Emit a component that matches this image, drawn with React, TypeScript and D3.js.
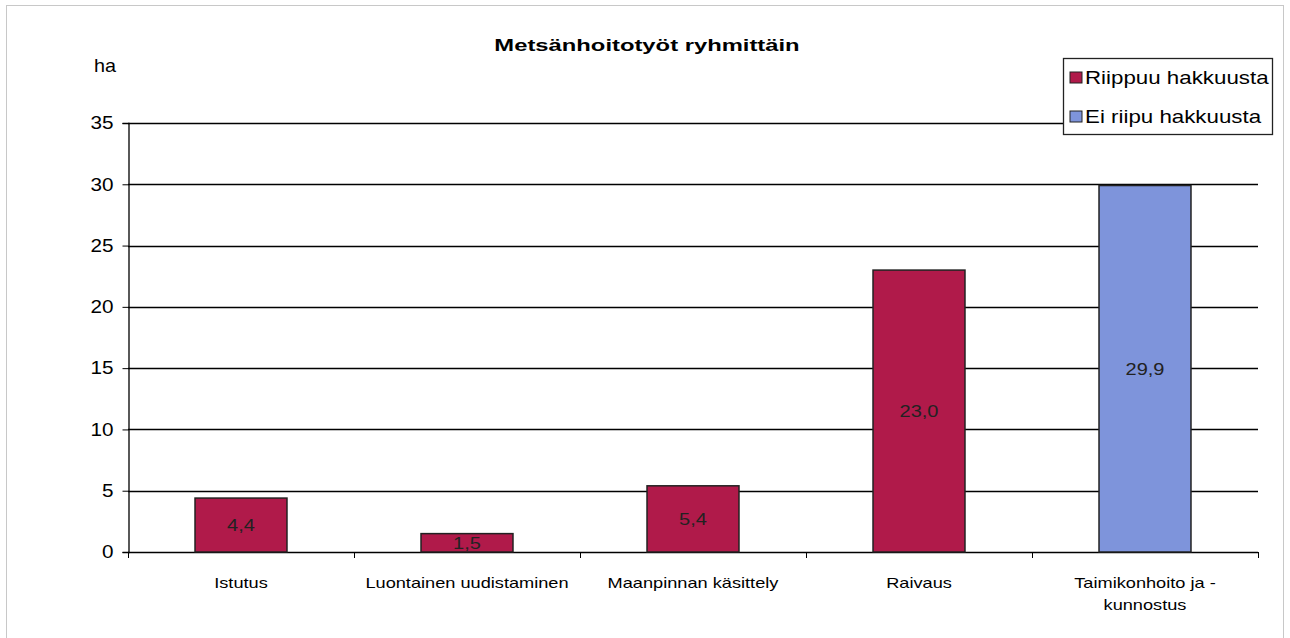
import { useRef, useEffect } from "react";
import * as d3 from "d3";

const categories = [
  ["Istutus"],
  ["Luontainen uudistaminen"],
  ["Maanpinnan käsittely"],
  ["Raivaus"],
  ["Taimikonhoito ja -", "kunnostus"],
];
const values = [4.4, 1.5, 5.4, 23.0, 29.9];
const series = [0, 0, 0, 0, 1]; // 0 = Riippuu hakkuusta, 1 = Ei riipu hakkuusta
const seriesNames = ["Riippuu hakkuusta", "Ei riipu hakkuusta"];
const seriesColors = ["#B01A4A", "#7E94DB"];
const yTicks = [0, 5, 10, 15, 20, 25, 30, 35];

const W = 1290;
const H = 638;
const left = 128;
const right = 1258;
const top = 123;
const bottom = 552;

// the original picture is stretched sideways, so text gets a horizontal scale
function stretched(
  g: d3.Selection<any, any, any, any>,
  x: number,
  y: number,
  sx: number,
  size: number,
  txt: string,
  anchor = "middle",
) {
  return g.append("text")
    .attr("transform", `translate(${x},${y}) scale(${sx},1)`)
    .attr("text-anchor", anchor)
    .attr("font-size", size)
    .text(txt);
}

const App = () => {
  const ref = useRef<SVGSVGElement>(null);

  useEffect(() => {
    if (!ref.current) return;
    const svg = d3.select(ref.current);
    svg.selectAll("*").remove();

    const x = d3.scaleBand<number>()
      .domain(d3.range(values.length))
      .range([left, right])
      .paddingInner(0.593)
      .paddingOuter(0.2965);
    const band = d3.scaleBand<number>().domain(d3.range(values.length)).range([left, right]);
    const y = d3.scaleLinear().domain([0, 35]).range([bottom, top]);

    // outer frame
    svg.append("rect")
      .attr("x", 6.5).attr("y", 5.5)
      .attr("width", W - 13).attr("height", H - 4)
      .attr("fill", "none").attr("stroke", "#c8c8c8");

    // title
    stretched(svg, 647, 51, 1.4, 17, "Metsänhoitotyöt ryhmittäin").attr("font-weight", "bold");
    stretched(svg, 94, 72, 1.1, 18, "ha", "start");

    // gridlines
    svg.append("g")
      .selectAll("line")
      .data(yTicks)
      .join("line")
      .attr("x1", left).attr("x2", right)
      .attr("y1", d => Math.round(y(d)) + 0.5)
      .attr("y2", d => Math.round(y(d)) + 0.5)
      .attr("stroke", "#000")
      .attr("stroke-width", 1.3);

    // y axis
    const yAxis = svg.append("g")
      .attr("transform", `translate(${left + 0.5},0)`)
      .call(d3.axisLeft(y).tickValues(yTicks).tickSize(6).tickPadding(10).tickFormat(d3.format("d")));
    yAxis.select(".domain").attr("stroke", "#000").attr("stroke-width", 1.3);
    yAxis.selectAll("text")
      .attr("font-size", 18)
      .attr("font-family", "Liberation Sans, Arial, sans-serif")
      .attr("fill", "#000")
      .attr("x", -15 / 1.15)
      .attr("transform", "scale(1.15,1)");

    // x axis ticks at band boundaries
    svg.append("g")
      .selectAll("line")
      .data(d3.range(values.length + 1))
      .join("line")
      .attr("x1", d => left + d * band.step() + 0.5)
      .attr("x2", d => left + d * band.step() + 0.5)
      .attr("y1", bottom)
      .attr("y2", bottom + 6)
      .attr("stroke", "#000");

    // bars
    svg.append("g")
      .selectAll("rect")
      .data(values)
      .join("rect")
      .attr("x", (_, i) => x(i)!)
      .attr("y", d => y(d))
      .attr("width", x.bandwidth())
      .attr("height", d => y(0) - y(d))
      .attr("fill", (_, i) => seriesColors[series[i]])
      .attr("stroke", "#222")
      .attr("stroke-width", 1.5);

    // value labels
    const vl = svg.append("g").attr("fill", "#222");
    values.forEach((v, i) => {
      stretched(vl, x(i)! + x.bandwidth() / 2, (y(v) + y(0)) / 2 + 6, 1.25, 16, v.toFixed(1).replace(".", ","));
    });

    // category labels
    const cl = svg.append("g");
    categories.forEach((lines, i) => {
      lines.forEach((l, j) => {
        stretched(cl, band(i)! + band.bandwidth() / 2, 588 + j * 22, 1.3, 14, l);
      });
    });

    // legend
    const lg = svg.append("g").attr("transform", "translate(1063,58)");
    lg.append("rect")
      .attr("x", 0.5).attr("y", 0.5)
      .attr("width", 209).attr("height", 76)
      .attr("fill", "#fff").attr("stroke", "#222").attr("stroke-width", 1.3);
    seriesNames.forEach((name, i) => {
      const it = lg.append("g").attr("transform", `translate(7,${20 + i * 39})`);
      it.append("rect")
        .attr("x", 0).attr("y", -6)
        .attr("width", 12).attr("height", 11)
        .attr("fill", seriesColors[i])
        .attr("stroke", "#222");
      stretched(it, 15, 6, 1.24, 18, name, "start");
    });
  }, []);

  return (
    <svg
      ref={ref}
      width={W}
      height={H}
      style={{ position: "absolute", left: 0, top: 0, background: "#fff", fontFamily: "Liberation Sans, Arial, sans-serif" }}
    />
  );
};

export default App;
